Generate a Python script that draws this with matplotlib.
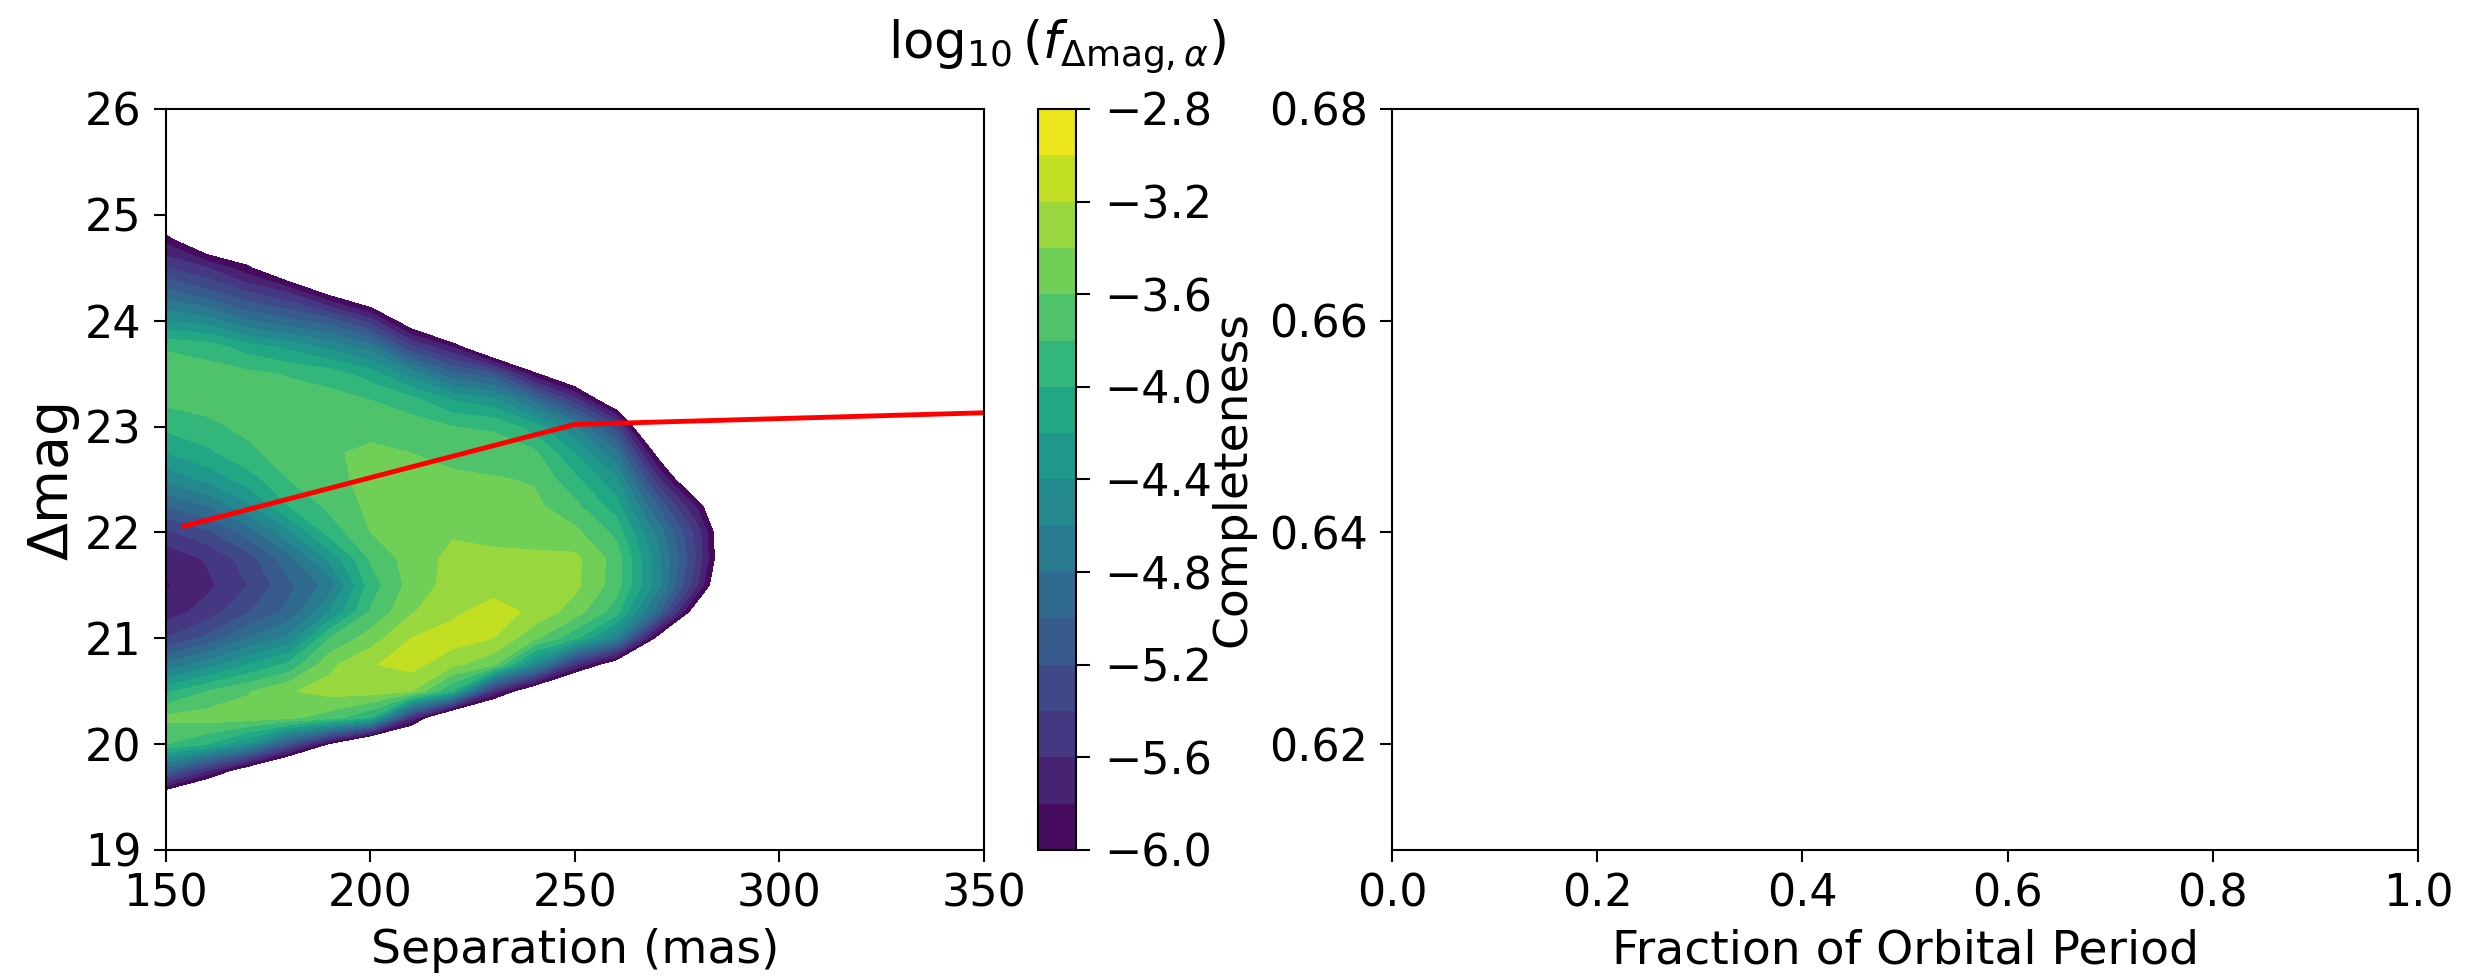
import numpy as np
import matplotlib
matplotlib.use('Agg')
import matplotlib.pyplot as plt

separation = [150, 160, 170, 180, 190, 200, 210, 220, 230, 240, 250, 260, 270, 280, 290]  # mas
dmag = [19.25, 19.5, 19.75, 20.0, 20.25, 20.5, 20.75, 21.0, 21.25, 21.5, 21.75, 22.0,
        22.25, 22.5, 22.75, 23.0, 23.25, 23.5, 23.75, 24.0, 24.25, 24.5, 24.75, 25.0]

# log10 density, one list per separation column (bottom -> top in dmag); < -6 is left blank
log_f_cols = [
    [-7, -6.4, -5.0, -3.8, -3.55, -4.05, -4.75, -5.4, -5.7, -5.82, -5.75, -5.45, -5.0, -4.55, -4.2, -3.95, -3.75, -3.7, -3.82, -4.4, -4.9, -5.4, -5.85, -6.5],
    [-7, -6.9, -5.6, -4.0, -3.5, -3.8, -4.5, -5.15, -5.52, -5.65, -5.58, -5.25, -4.8, -4.35, -4.05, -3.85, -3.72, -3.72, -3.88, -4.5, -5.1, -5.6, -6.4, -7],
    [-7, -7, -6.3, -4.4, -3.5, -3.62, -4.2, -4.8, -5.22, -5.4, -5.3, -4.92, -4.45, -4.1, -3.85, -3.75, -3.7, -3.75, -4.1, -4.8, -5.35, -5.95, -6.5, -7],
    [-7, -7, -7, -5.2, -3.55, -3.42, -3.95, -4.55, -4.95, -5.05, -4.88, -4.45, -4.0, -3.8, -3.7, -3.65, -3.7, -3.82, -4.25, -4.95, -5.55, -6.5, -7, -7],
    [-7, -7, -7, -6.05, -3.7, -3.32, -3.45, -3.8, -4.4, -4.72, -4.35, -3.92, -3.75, -3.68, -3.63, -3.65, -3.72, -3.9, -4.45, -5.1, -6.05, -7, -7, -7],
    [-7, -7, -7, -6.9, -4.0, -3.3, -3.22, -3.5, -3.78, -3.9, -3.78, -3.6, -3.55, -3.52, -3.55, -3.68, -3.8, -4.1, -4.7, -5.5, -6.5, -7, -7, -7],
    [-7, -7, -7, -7, -5.6, -3.4, -3.12, -3.2, -3.42, -3.52, -3.5, -3.5, -3.48, -3.5, -3.6, -3.7, -3.92, -4.5, -5.35, -6.3, -7, -7, -7, -7],
    [-7, -7, -7, -7, -6.8, -4.0, -3.35, -3.1, -3.25, -3.32, -3.35, -3.42, -3.5, -3.55, -3.68, -3.8, -4.2, -4.95, -5.8, -7, -7, -7, -7, -7],
    [-7, -7, -7, -7, -7, -5.6, -3.55, -3.2, -3.1, -3.3, -3.36, -3.45, -3.52, -3.58, -3.72, -3.82, -4.35, -5.15, -6.6, -7, -7, -7, -7, -7],
    [-7, -7, -7, -7, -7, -6.4, -4.5, -3.55, -3.25, -3.25, -3.35, -3.5, -3.55, -3.62, -3.75, -4.1, -4.85, -5.95, -7, -7, -7, -7, -7, -7],
    [-7, -7, -7, -7, -7, -7, -5.6, -3.95, -3.5, -3.35, -3.35, -3.55, -3.75, -3.95, -4.2, -4.6, -5.5, -6.5, -7, -7, -7, -7, -7, -7],
    [-7, -7, -7, -7, -7, -7, -6.3, -4.6, -3.9, -3.7, -3.68, -3.85, -4.1, -4.35, -4.75, -5.3, -6.4, -7, -7, -7, -7, -7, -7, -7],
    [-7, -7, -7, -7, -7, -7, -7, -6.1, -4.9, -4.5, -4.5, -4.65, -5.0, -5.5, -6.1, -7, -7, -7, -7, -7, -7, -7, -7, -7],
    [-7, -7, -7, -7, -7, -7, -7, -7, -6.3, -5.6, -5.45, -5.5, -5.85, -6.6, -7, -7, -7, -7, -7, -7, -7, -7, -7, -7],
    [-7, -7, -7, -7, -7, -7, -7, -7, -7, -7, -6.8, -6.8, -7, -7, -7, -7, -7, -7, -7, -7, -7, -7, -7, -7],
]

# red limit curve
line_sep = [154.5, 250, 350]
line_dmag = [22.06, 23.02, 23.13]

cbar_ticks = [-6.0, -5.6, -5.2, -4.8, -4.4, -4.0, -3.6, -3.2, -2.8]
comp_yticks = [0.62, 0.64, 0.66, 0.68]
frac_xticks = [0.0, 0.2, 0.4, 0.6, 0.8, 1.0]

plt.rcParams['font.family'] = ['DejaVu Sans']
plt.rcParams['font.size'] = 32
plt.rcParams['axes.linewidth'] = 1.5
plt.rcParams['xtick.major.size'] = 8.5
plt.rcParams['ytick.major.size'] = 8.5
plt.rcParams['xtick.major.width'] = 1.5
plt.rcParams['ytick.major.width'] = 1.5
plt.rcParams['xtick.major.pad'] = 8
plt.rcParams['ytick.major.pad'] = 9

fig = plt.figure(figsize=(24.81, 9.8), dpi=100)
ax1 = fig.add_axes([0.0669, 0.1327, 0.3297, 0.7561])
cax = fig.add_axes([0.4184, 0.1327, 0.0153, 0.7561])
ax2 = fig.add_axes([0.5611, 0.1327, 0.4135, 0.7561])

Z = np.array(log_f_cols).T
levels = np.linspace(-6.0, -2.8, 17)
cs = ax1.contourf(separation, dmag, Z, levels=levels, cmap='viridis')
ax1.plot(line_sep, line_dmag, color='red', lw=3.5)
ax1.set_xlim(150, 350)
ax1.set_ylim(19, 26)
ax1.set_xlabel('Separation (mas)', fontsize=34, labelpad=9)
ax1.set_ylabel('\u0394mag', fontsize=40, labelpad=4)

cbar = fig.colorbar(cs, cax=cax, ticks=cbar_ticks)
cbar.ax.set_yticklabels(['\u2212%.1f' % abs(t) for t in cbar_ticks])
cbar.ax.tick_params(length=10, width=1.5, pad=10)
cbar.outline.set_linewidth(1.5)
cbar.ax.set_title(r'$\log_{10}(f_{\Delta\mathrm{mag},\alpha})$', fontsize=37, pad=37)

ax2.set_xlim(0, 1)
ax2.set_ylim(0.61, 0.68)
ax2.set_xticks(frac_xticks)
ax2.set_yticks(comp_yticks)
ax2.set_xticklabels(['%.1f' % t for t in frac_xticks])
ax2.set_yticklabels(['%.2f' % t for t in comp_yticks])
ax2.set_xlabel('Fraction of Orbital Period', fontsize=34, labelpad=9)
ax2.set_ylabel('Completeness', fontsize=34, labelpad=10)

fig.savefig('out.png', dpi=100)
